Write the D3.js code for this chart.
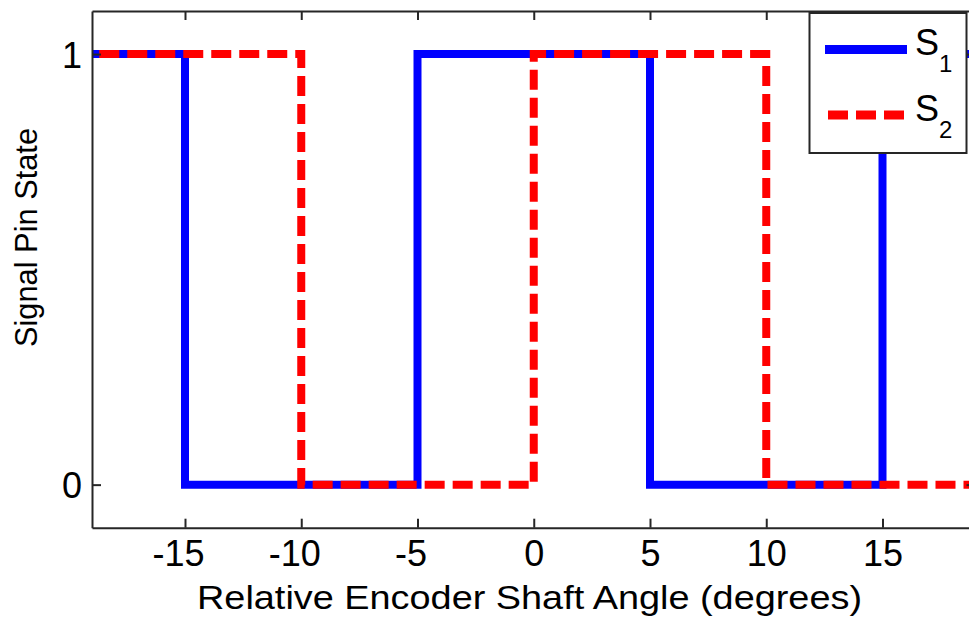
<!DOCTYPE html>
<html>
<head>
<meta charset="utf-8">
<script src="https://cdn.jsdelivr.net/npm/d3@7"></script>
<style>
  body { margin: 0; background: #fff; }
  svg { display: block; font-family: Arial, "Liberation Sans", Helvetica, sans-serif; }
</style>
</head>
<body>
<div id="chart"></div>
<script>
// Step signals: state holds from each angle until the next one
const s1Angle = [-20, -15, -5, 5, 15, 20];
const s1State = [1, 0, 1, 0, 1, 1];
const s2Angle = [-20, -10, 0, 10, 20];
const s2State = [1, 0, 1, 0, 0];
const xTicks = [-15, -10, -5, 0, 5, 10, 15];
const yTicks = [0, 1];
const seriesNames = ['1', '2'];

const width = 969, height = 621;
const margin = { left: 92, top: 11, right: -6.5, bottom: 93.3 };

const svg = d3.select('#chart').append('svg')
    .attr('width', width)
    .attr('height', height);

const x = d3.scaleLinear().domain([-19, 19]).range([margin.left, width - margin.right]);
const y = d3.scaleLinear().domain([-0.1, 1.1]).range([height - margin.bottom, margin.top]);

svg.append('defs').append('clipPath').attr('id', 'plot-clip')
    .append('rect')
    .attr('x', x.range()[0]).attr('y', y.range()[1])
    .attr('width', x.range()[1] - x.range()[0])
    .attr('height', y.range()[0] - y.range()[1]);

// Lines
const line = d3.line().x(d => x(d[0])).y(d => y(d[1])).curve(d3.curveStepAfter);
const s1 = s1Angle.map((a, i) => [a, s1State[i]]);
const s2 = s2Angle.map((a, i) => [a, s2State[i]]);

const plot = svg.append('g').attr('clip-path', 'url(#plot-clip)');
plot.append('path').datum(s1)
    .attr('d', line)
    .attr('fill', 'none')
    .attr('stroke', '#0000ff')
    .attr('stroke-width', 8)
    .attr('stroke-linejoin', 'miter');
plot.append('path').datum(s2)
    .attr('d', line)
    .attr('fill', 'none')
    .attr('stroke', '#ff0000')
    .attr('stroke-width', 8)
    .attr('stroke-dasharray', '20,8')
    .attr('stroke-dashoffset', 25.5)
    .attr('stroke-linejoin', 'miter');

// Axes (box with inward ticks)
const tick = 9;
const fmt = d => String(d);
const xAxis = svg.append('g')
    .attr('transform', `translate(0,${y.range()[0]})`)
    .call(d3.axisBottom(x).tickValues(xTicks).tickFormat(fmt).tickSizeInner(-tick).tickSizeOuter(0));
// matlab centres the digits, the minus sign hangs to the left
xAxis.selectAll('text')
    .attr('y', 38.5).attr('dy', 0)
    .attr('dx', d => d < 0 ? -7 : 0)
    .attr('font-size', 36).attr('fill', '#000');

svg.append('g')
    .attr('transform', `translate(0,${y.range()[1]})`)
    .call(d3.axisTop(x).tickValues(xTicks).tickFormat('').tickSizeInner(-tick).tickSizeOuter(0));

const yAxis = svg.append('g')
    .attr('transform', `translate(${x.range()[0]},0)`)
    .call(d3.axisLeft(y).tickValues(yTicks).tickFormat(fmt).tickSizeInner(-tick).tickSizeOuter(0));
yAxis.selectAll('text').attr('x', -10).attr('dy', '0.36em').attr('font-size', 36).attr('fill', '#000');

svg.append('g')
    .attr('transform', `translate(${x.range()[1]},0)`)
    .call(d3.axisRight(y).tickValues(yTicks).tickFormat('').tickSizeInner(-tick).tickSizeOuter(0));

svg.selectAll('.domain, .tick line').attr('stroke', '#262626').attr('stroke-width', 2);

// Axis labels
svg.append('text')
    .attr('x', 529.5)
    .attr('y', 609)
    .attr('text-anchor', 'middle')
    .attr('font-size', 34)
    .attr('textLength', 665)
    .attr('lengthAdjust', 'spacingAndGlyphs')
    .text('Relative Encoder Shaft Angle (degrees)');

svg.append('text')
    .attr('transform', 'translate(37,237.5) rotate(-90)')
    .attr('text-anchor', 'middle')
    .attr('font-size', 32)
    .attr('textLength', 219)
    .attr('lengthAdjust', 'spacingAndGlyphs')
    .text('Signal Pin State');

// Legend
const legend = svg.append('g');
legend.append('rect')
    .attr('x', 809.5).attr('y', 13)
    .attr('width', 157).attr('height', 140)
    .attr('fill', '#fff')
    .attr('stroke', '#262626')
    .attr('stroke-width', 2);

const legendY = [49.5, 115];
const legendStyle = [
    { stroke: '#0000ff', dash: null },
    { stroke: '#ff0000', dash: '20,8' }
];
seriesNames.forEach((name, i) => {
    legend.append('line')
        .attr('x1', 825).attr('x2', 907)
        .attr('y1', legendY[i]).attr('y2', legendY[i])
        .attr('stroke', legendStyle[i].stroke)
        .attr('stroke-width', 9)
        .attr('stroke-dasharray', legendStyle[i].dash)
        .attr('stroke-dashoffset', i === 1 ? -3 : 0);
    const t = legend.append('text')
        .attr('x', 915)
        .attr('y', legendY[i] + 5.5)
        .attr('font-size', 36);
    t.append('tspan').text('S');
    t.append('tspan')
        .attr('dy', 17)
        .attr('font-size', 24)
        .text(name);
});
</script>
</body>
</html>
